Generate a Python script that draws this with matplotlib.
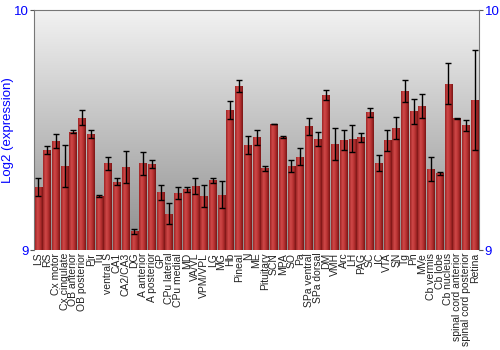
import numpy as np
import matplotlib
matplotlib.use('Agg')
import matplotlib.pyplot as plt
from matplotlib.colors import LinearSegmentedColormap

plt.rcParams['font.family'] = ['Liberation Sans', 'DejaVu Sans']

# data
regions = ['LS', 'RS', 'Cx motor', 'Cx cingulate', 'OB anterior', 'OB posterior', 'Pir', 'Tu',
           'ventral S', 'CA1', 'CA2/CA3', 'DG', 'A anterior', 'A posterior', 'GP', 'CPu lateral',
           'CPu medial', 'MD', 'VA/VL', 'VPM/VPL', 'LG', 'MG', 'Hb', 'Pineal', 'N', 'ME',
           'Pituitary', 'SCN', 'MPA', 'SO', 'Pa', 'SPa ventral', 'SPa dorsal', 'DM', 'VMH',
           'Arc', 'LH', 'PAG', 'SC', 'IC', 'VTA', 'SN', 'Tg', 'Pn', 'MVe', 'Cb vermis',
           'Cb lobe', 'Cb nucleus', 'spinal cord anterior', 'spinal cord posterior', 'Retina']
expr = [9.261, 9.417, 9.455, 9.350, 9.493, 9.551, 9.482, 9.225, 9.361, 9.285, 9.346, 9.078,
        9.361, 9.358, 9.240, 9.151, 9.238, 9.253, 9.265, 9.225, 9.290, 9.230, 9.583, 9.683,
        9.439, 9.469, 9.340, 9.525, 9.469, 9.351, 9.389, 9.515, 9.464, 9.646, 9.440,
        9.457, 9.464, 9.469, 9.574, 9.364, 9.457, 9.508, 9.663, 9.579, 9.600, 9.339,
        9.319, 9.693, 9.549, 9.519, 9.625]
err = [0.038, 0.017, 0.028, 0.088, 0.005, 0.032, 0.017, 0.005, 0.028, 0.013, 0.067, 0.010,
       0.047, 0.017, 0.031, 0.043, 0.024, 0.010, 0.033, 0.047, 0.011, 0.056, 0.037, 0.026,
       0.037, 0.030, 0.010, 0.002, 0.004, 0.024, 0.035, 0.037, 0.029, 0.022, 0.067,
       0.042, 0.056, 0.018, 0.019, 0.033, 0.043, 0.047, 0.047, 0.052, 0.052, 0.050,
       0.006, 0.085, 0.003, 0.022, 0.207]

blue = '#0000ff'
fig = plt.figure(figsize=(5, 3.5), dpi=100)
ax = fig.add_axes([0.068, 0.2857, 0.89, 0.6857])

n = len(regions)
x = np.arange(n)

# background gradient, light at top, darker at bottom
bg = LinearSegmentedColormap.from_list('bg', ['#8e8e8e', '#f2f2f2'])
ax.imshow(np.linspace(0, 1, 256).reshape(-1, 1), cmap=bg, origin='lower',
          extent=[-0.5, n - 0.5, 9, 10], aspect='auto', zorder=0)

bars = ax.bar(x, np.array(expr) - 9, bottom=9, width=0.88, color='#b83232',
              edgecolor='none', zorder=2)
barcm = LinearSegmentedColormap.from_list('bar', ['#9e2626', '#d04848', '#b53030', '#7a1515'])
grad = np.linspace(0, 1, 64).reshape(1, -1)
for b in bars:
    x0 = b.get_x()
    im = ax.imshow(grad, cmap=barcm, extent=[x0, x0 + b.get_width(), 9, b.get_y() + b.get_height()],
                   aspect='auto', zorder=3)
    im.set_clip_path(b)

ax.errorbar(x, expr, yerr=err, fmt='none', ecolor='black', elinewidth=1,
            capsize=2, capthick=1, zorder=4)
ax.set_xlim(-0.5, n - 0.5)
ax.set_ylim(9, 10)

ax.set_xticks(x)
ax.set_xticklabels(regions, rotation=90, fontsize=7.5, color='#222222')
ax.tick_params(axis='x', length=0, pad=2)
ax.set_yticks([9, 10])
ax.set_yticklabels(['9', '10'], color=blue, fontsize=9.5)
ax.tick_params(axis='y', length=3, pad=1, color='#555555', labelright=True, right=True, labelleft=True)
ax.set_ylabel('Log2 (expression)', color=blue, fontsize=9.5)
ax.yaxis.set_label_coords(-0.045, 0.5)
for s in ax.spines.values():
    s.set_color('#777777')
ax.spines['bottom'].set_visible(False)

fig.savefig('out.png', dpi=100)
